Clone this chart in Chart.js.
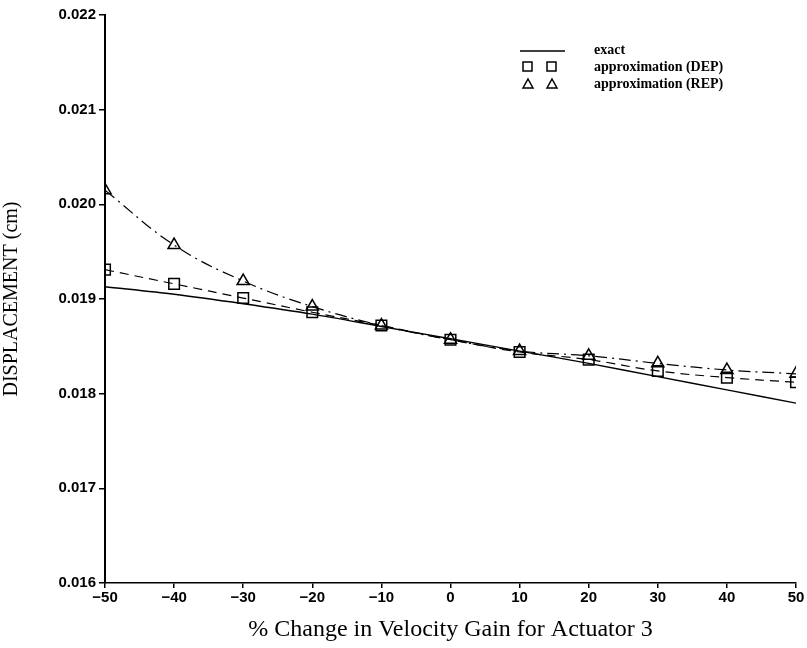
<!DOCTYPE html>
<html>
<head>
<meta charset="utf-8">
<script src="https://cdn.jsdelivr.net/npm/chart.js@4.4.1/dist/chart.umd.min.js"></script>
<style>
  html, body { margin: 0; padding: 0; background: #fff; }
  #wrap { width: 807px; height: 648px; position: relative; }
</style>
</head>
<body>
<div id="wrap"><canvas id="chart" width="807" height="648"></canvas></div>
<script>
// % change in velocity gain
var gainChange = [-50, -40, -30, -20, -10, 0, 10, 20, 30, 40, 50];
// displacement (cm)
var exactVals = [0.01913, 0.01905, 0.01895, 0.01884, 0.01871, 0.01858, 0.01845, 0.01832, 0.01818, 0.01804, 0.01790];
var depVals   = [0.01931, 0.01916, 0.01901, 0.01886, 0.01872, 0.01857, 0.01844, 0.01836, 0.01824, 0.01817, 0.01812];
var repVals   = [0.02015, 0.01957, 0.01919, 0.01892, 0.01872, 0.01857, 0.01845, 0.01840, 0.01832, 0.01825, 0.01821];
var yTicks = [0.016, 0.017, 0.018, 0.019, 0.020, 0.021, 0.022];

function toPts(vals) {
  return gainChange.map(function (x, i) { return { x: x, y: vals[i] }; });
}

// legend drawn in the upper right, like the original figure
var legendPlugin = {
  id: 'paperLegend',
  afterDraw: function (chart) {
    var ctx = chart.ctx;
    ctx.save();
    ctx.strokeStyle = '#000';
    ctx.fillStyle = '#000';
    ctx.lineWidth = 1.5;
    // exact
    ctx.beginPath();
    ctx.moveTo(520, 51); ctx.lineTo(565, 51);
    ctx.stroke();
    // squares
    ctx.strokeRect(523, 62, 9, 9);
    ctx.strokeRect(547, 62, 9, 9);
    // triangles
    [528, 552].forEach(function (cx) {
      ctx.beginPath();
      ctx.moveTo(cx, 79); ctx.lineTo(cx + 5, 88); ctx.lineTo(cx - 5, 88); ctx.closePath();
      ctx.stroke();
    });
    ctx.font = 'bold 14px "Liberation Serif"';
    ctx.textBaseline = 'middle';
    ctx.fillText('exact', 594, 50);
    ctx.fillText('approximation (DEP)', 594, 67);
    ctx.fillText('approximation (REP)', 594, 84);
    ctx.restore();
  }
};

var config = {
  type: 'line',
  data: {
    datasets: [{
      label: 'exact',
      data: toPts(exactVals),
      borderColor: '#000',
      borderWidth: 1.4,
      pointRadius: 0,
      tension: 0.3
    }, {
      label: 'approximation (DEP)',
      data: toPts(depVals),
      borderColor: '#000',
      borderWidth: 1.2,
      borderDash: [9, 6],
      pointStyle: 'rect',
      pointRadius: 7.5,
      pointBorderWidth: 1.5,
      pointBackgroundColor: 'rgba(0,0,0,0)',
      pointBorderColor: '#000',
      tension: 0.4
    }, {
      label: 'approximation (REP)',
      data: toPts(repVals),
      borderColor: '#000',
      borderWidth: 1.2,
      borderDash: [12, 5, 2, 5],
      pointStyle: 'triangle',
      pointRadius: 7,
      pointBorderWidth: 1.5,
      pointBackgroundColor: 'rgba(0,0,0,0)',
      pointBorderColor: '#000',
      tension: 0.4
    }]
  },
  options: {
    responsive: false,
    animation: false,
    layout: { padding: { top: 15, right: 11, left: 0, bottom: 0 } },
    plugins: {
      legend: { display: false },
      tooltip: { enabled: false }
    },
    scales: {
      x: {
        type: 'linear',
        min: -50,
        max: 50,
        afterFit: function (s) { s.height = 65; },
        border: { display: true, color: '#000', width: 1.5 },
        grid: { drawOnChartArea: false, drawTicks: true, tickLength: 5, color: '#000', lineWidth: 1.5 },
        ticks: {
          stepSize: 10,
          color: '#000',
          padding: 1,
          maxRotation: 0,
          font: { family: '"Liberation Sans"', size: 15, weight: 'bold' },
          callback: function (v) { return v < 0 ? '\u2212' + Math.abs(v) : String(v); }
        },
        title: {
          display: true,
          text: '% Change in Velocity Gain for Actuator 3',
          color: '#000',
          font: { family: '"Liberation Serif"', size: 24 },
          padding: { top: 0, bottom: 4 }
        }
      },
      y: {
        type: 'linear',
        min: 0.016,
        max: 0.022,
        afterFit: function (s) { s.width = 105; },
        afterBuildTicks: function (s) { s.ticks = yTicks.map(function (v) { return { value: v }; }); },
        border: { display: true, color: '#000', width: 2 },
        grid: { drawOnChartArea: false, drawTicks: true, tickLength: 6, color: '#000', lineWidth: 1.5 },
        ticks: {
          color: '#000',
          padding: 3,
          font: { family: '"Liberation Sans"', size: 15, weight: 'bold' },
          callback: function (v) { return v.toFixed(3); }
        },
        title: {
          display: true,
          text: 'DISPLACEMENT (cm)',
          color: '#000',
          font: { family: '"Liberation Serif"', size: 20 },
          padding: { top: 0, bottom: 8 }
        }
      }
    }
  },
  plugins: [legendPlugin]
};

var ctx = document.getElementById('chart').getContext('2d');
window.myChart = new Chart(ctx, config);
</script>
</body>
</html>
